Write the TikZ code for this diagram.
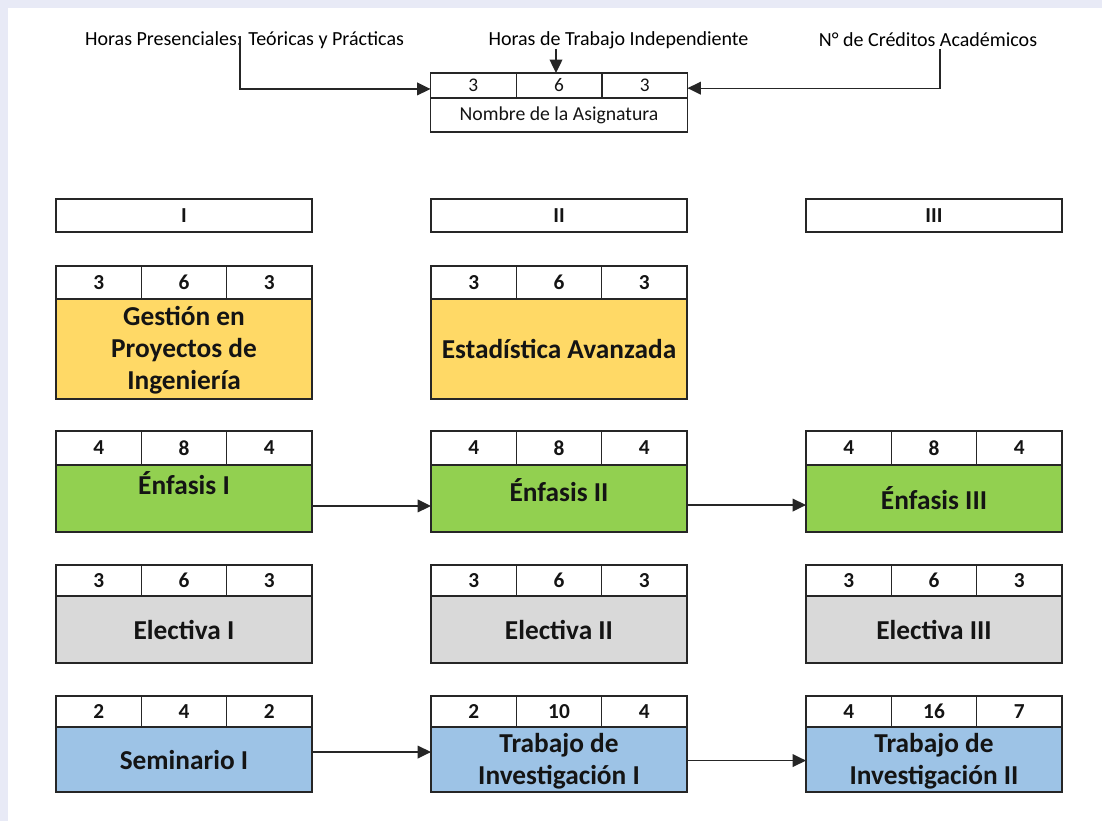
\documentclass[tikz,border=0pt]{standalone}
\usepackage{fontspec}
\setmainfont{Carlito}
\usetikzlibrary{arrows.meta}
\definecolor{bgband}{RGB}{232,234,246}
\definecolor{linec}{RGB}{38,38,38}
\definecolor{txt}{RGB}{20,20,20}
\definecolor{cyellow}{RGB}{255,217,102}
\definecolor{cgreen}{RGB}{146,208,80}
\definecolor{cgray}{RGB}{217,217,217}
\definecolor{cblue}{RGB}{157,195,230}
\tikzset{
  box/.style={draw=linec, line width=1pt, inner sep=0pt, outer sep=0pt, anchor=north west, align=center, text=txt},
  numcell/.style={box, fill=white, minimum width=64pt, font=\bfseries\fontsize{16}{18}\selectfont},
  body/.style={box, minimum width=192pt, font=\bfseries\fontsize{20.5}{24}\selectfont},
  hdr/.style={box, fill=white, minimum width=192pt, minimum height=24.75pt, font=\bfseries\fontsize{16}{18}\selectfont},
  lnum/.style={box, fill=white, minimum width=64.25pt, minimum height=18.75pt, font=\fontsize{14.5}{16}\selectfont},
  lbody/.style={box, fill=white, minimum width=192.75pt, minimum height=25.5pt, font=\fontsize{14.8}{16}\selectfont},
  lbl/.style={inner sep=0pt, text=black, font=\fontsize{15}{18}\selectfont},
  arr/.style={line width=1pt, draw=linec, -{Triangle[length=10pt,width=9.5pt]}}
}
\newcommand\trio[7]{%
  \node[numcell, minimum height=#4] (#1a) at (#2,#3) {#5};
  \node[numcell, minimum height=#4] (#1b) at (#1a.north east) {#6};
  \node[numcell, minimum height=#4] (#1c) at (#1b.north east) {#7};
}
% id, x, y, numh, bodyh, {numbers}, fill, text, extra body options
\newcommand\course[9]{%
  \trio{#1}{#2}{#3}{#4}#6
  \node[body, minimum height=#5, fill=#7, #9] (#1body) at (#1a.south west) {#8};
}
\begin{document}
\begin{tikzpicture}[x=0.75pt,y=-0.75pt]
\useasboundingbox (0,0) rectangle (1102,821);
\fill[white] (0,0) rectangle (1102,821);
\fill[bgband] (0,0) rectangle (1102,8);
\fill[bgband] (0,0) rectangle (8,821);

% legend
\node[lbl] (l1) at (244.5,40) {Horas Presenciales: Teóricas y Prácticas};
\node[lbl] (l2) at (618.5,40) {Horas de Trabajo Independiente};
\node[lbl] (l3) at (928,40) {N° de Créditos Académicos};
\node[lnum] (la) at (430.5,73) {3};
\node[lnum] (lb) at (la.north east) {6};
\node[lnum] (lc) at (lb.north east) {3};
\node[lbody] (lbody) at (la.south west) {Nombre de la Asignatura};
\coordinate (p1) at (240,36);
\coordinate (p2) at (556,49);
\coordinate (p3) at (940,49);
\draw[arr] (p1) |- ([yshift=-2.6pt]la.west);
\draw[arr] (p2) -- (p2 |- lb.north);
\draw[arr] (p3) |- ([yshift=-2pt]lc.east);

% semester headers
\node[hdr] (h1) at (56,199) {I};
\node[hdr] (h2) at (431,199) {II};
\node[hdr] (h3) at (806,199) {III};

% row 1
\course{g}{56}{266}{24.75pt}{75pt}{{3}{6}{3}}{cyellow}{Gestión en\\Proyectos de\\Ingeniería}{text depth=1pt}
\course{est}{431}{266}{24.75pt}{75pt}{{3}{6}{3}}{cyellow}{Estadística Avanzada}{}

% row 2
\course{ea}{56}{431}{25.5pt}{50.25pt}{{4}{8}{4}}{cgreen}{Énfasis I}{text depth=23pt}
\course{eb}{431}{431}{25.5pt}{50.25pt}{{4}{8}{4}}{cgreen}{Énfasis II}{text depth=13pt}
\course{ec}{806}{431}{25.5pt}{50.25pt}{{4}{8}{4}}{cgreen}{Énfasis III}{}

% row 3
\course{la}{56}{565}{23.25pt}{50.25pt}{{3}{6}{3}}{cgray}{Electiva I}{}
\course{lb}{431}{565}{23.25pt}{50.25pt}{{3}{6}{3}}{cgray}{Electiva II}{}
\course{lc}{806}{565}{23.25pt}{50.25pt}{{3}{6}{3}}{cgray}{Electiva III}{}

% row 4
\course{s}{56}{696}{23.25pt}{48.75pt}{{2}{4}{2}}{cblue}{Seminario I}{}
\course{ta}{431}{696}{23.25pt}{48.75pt}{{2}{10}{4}}{cblue}{Trabajo de\\Investigación I}{text depth=1pt}
\course{tb}{806}{696}{23.25pt}{48.75pt}{{4}{16}{7}}{cblue}{Trabajo de\\Investigación II}{text depth=1pt}

% connectors
\draw[arr] ([yshift=-5.6pt]eabody.east) -- ([yshift=-5.6pt]ebbody.west);
\draw[arr] ([yshift=-4.9pt]ebbody.east) -- ([yshift=-4.9pt]ecbody.west);
\draw[arr] ([yshift=5.6pt]sbody.east) -- ([yshift=5.6pt]tabody.west);
\draw[arr] ([yshift=-0.8pt]tabody.east) -- ([yshift=-0.8pt]tbbody.west);
\end{tikzpicture}
\end{document}
